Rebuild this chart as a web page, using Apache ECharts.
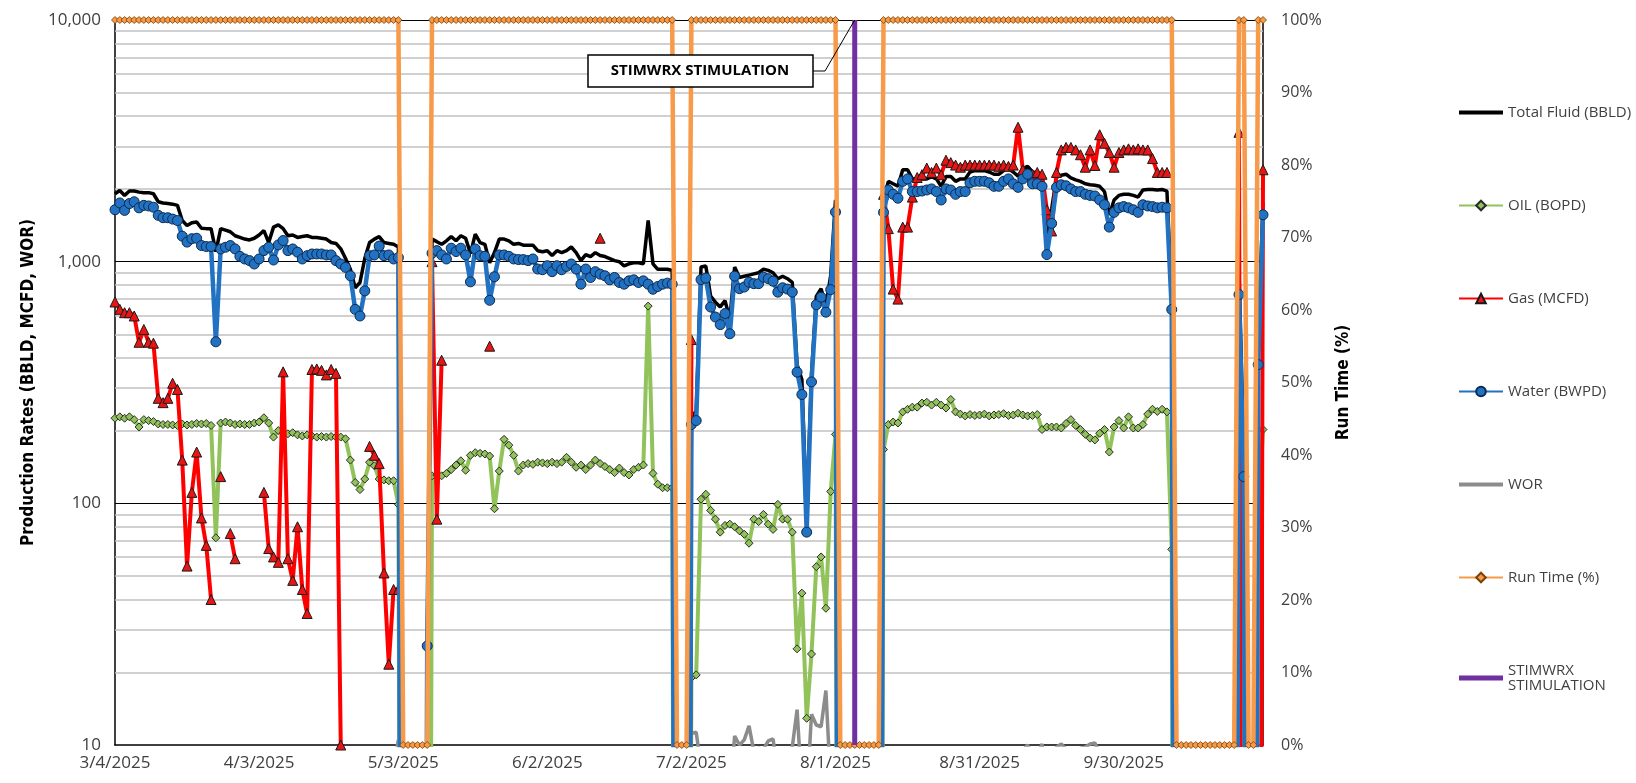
<!DOCTYPE html>
<html>
<head>
<meta charset="utf-8">
<title>Production Rates</title>
<script src="https://cdn.jsdelivr.net/npm/echarts@6/dist/echarts.min.js"></script>
<style>
  html, body { margin: 0; padding: 0; background: #fff; }
  #chart { width: 1636px; height: 783px; }
</style>
</head>
<body>
<div id="chart"></div>
<script>
// daily production, one entry per day from 3/4/2025 (index 0) to 10/29/2025 (index 239)
// 0 = well down, _ = no reading
const _ = null;
const START_DATE = Date.UTC(2025, 2, 4);
const DAY_COUNT = 240;
const STIM_DAY = 154;

const totalFluid = [
  1910,1970,1880,1960,1960,1940,1930,1930,1910,1770,
  1750,1740,1730,1710,1480,1410,1450,1460,1375,1370,
  1370,1100,1370,1350,1330,1280,1260,1240,1230,1250,
  1290,1345,1200,1390,1420,1370,1280,1290,1260,1270,
  1280,1260,1260,1250,1240,1200,1190,1130,1030,930,
  780,820,1030,1200,1240,1270,1200,1190,1180,1150,
  0,0,0,0,0,26,1240,1210,1180,1220,
  1270,1220,1280,1250,1080,1300,1200,1180,990,1090,
  1240,1240,1220,1180,1190,1170,1170,1170,1110,1100,
  1110,1060,1110,1090,1110,1150,1090,1010,1070,1050,
  1090,1060,1050,1030,1010,1000,960,980,990,990,
  980,1480,980,930,930,930,920,0,0,0,
  230,240,950,960,720,680,650,690,580,950,
  860,870,880,890,900,930,920,900,850,870,
  850,820,375,325,89,342,718,773,655,878,
  1800,0,0,0,0,0,0,0,0,0,
  1800,2150,2100,2050,2400,2400,2200,2200,2200,2200,
  2250,2200,2050,2250,2250,2150,2200,2200,2350,2380,
  2380,2380,2350,2300,2300,2380,2430,2350,2260,2430,
  2480,2350,2330,2260,1280,1650,2230,2280,2300,2220,
  2180,2150,2100,2080,2070,2050,1950,1560,1800,1880,
  1900,1900,1880,1850,1980,1990,1990,1980,1990,1960,
  700,0,0,0,0,0,0,0,0,0,
  0,0,0,0,930,158,0,0,461,1765
];

const oil = [
  225,228,225,228,222,207,222,220,218,213,
  212,212,211,210,213,211,212,214,213,214,
  210,72,215,217,215,212,213,212,212,215,
  217,226,215,188,200,195,194,196,192,190,
  192,190,188,189,188,189,188,188,185,151,
  122,114,126,148,143,126,125,124,124,99,
  0,0,0,0,0,0,130,131,130,133,
  138,144,150,137,158,162,161,160,157,95,
  136,184,174,158,136,144,146,145,148,147,
  146,148,146,148,155,148,141,144,138,144,
  151,146,142,138,134,140,134,131,138,141,
  144,655,133,120,116,116,116,0,0,0,
  19,19.5,104,109,93.5,86,76,81,82,80,
  77,74.5,68.4,86,84,90,82,78,99,86,
  86,76,25,42.5,12.9,23.8,54.7,60,36.8,112,
  193,0,0,0,0,0,0,0,0,0,
  167,212,217,215,239,245,250,250,260,262,
  255,262,255,248,269,239,234,230,233,231,
  232,234,230,232,233,235,231,232,236,232,
  230,231,233,202,207,207,207,205,214,222,
  210,202,193,186,183,195,202,163,207,220,
  205,228,205,205,212,234,245,240,245,239,
  64.5,0,0,0,0,0,0,0,0,0,
  0,0,0,0,200,28.8,0,0,86,202
];

const gas = [
  681,635,615,615,596,464,524,464,460,272,
  261,272,314,296,151,55,111,163,87,67,
  40,_,129,_,75,59,_,_,_,_,
  _,111,65,60,57,350,59,48,80,44,
  35,358,360,355,340,358,345,10,_,_,
  _,_,_,172,158,146,51.5,21.6,44,44,
  _,_,_,_,_,_,1000,86,391,_,
  _,_,_,_,_,_,_,_,447,_,
  _,_,_,_,_,_,_,_,_,_,
  _,_,_,_,_,_,_,_,_,_,
  _,1250,_,_,_,_,_,_,_,_,
  _,_,_,_,_,_,_,0,0,0,
  476,_,_,_,_,_,_,_,_,_,
  _,_,_,_,_,_,_,_,_,_,
  _,_,_,_,_,_,_,_,_,_,
  _,_,_,_,_,_,_,_,_,_,
  1900,1370,770,700,1390,1390,1850,2230,2290,2440,
  2340,2440,2290,2630,2570,2510,2460,2510,2510,2510,
  2510,2510,2510,2510,2480,2510,2480,2510,3600,2400,
  2260,2300,2340,2300,1640,1340,2340,2900,2970,2970,
  2900,2770,2460,2900,2500,3350,3090,2830,2460,2830,
  2900,2930,2900,2930,2900,2900,2670,2340,2340,2340,
  _,_,_,_,_,_,_,_,_,_,
  _,_,_,0,3430,0,_,_,0,2400
];

const water = [
  1640,1750,1630,1740,1770,1670,1710,1700,1680,1555,
  1520,1520,1500,1480,1275,1205,1245,1250,1166,1155,
  1155,466,1129,1147,1166,1129,1052,1026,1010,978,
  1026,1111,1147,1016,1173,1223,1111,1129,1094,1026,
  1059,1076,1076,1076,1066,1066,1010,978,947,874,
  635,596,757,1059,1066,1160,1059,1066,1026,1040,
  0,0,0,0,0,25.7,1083,1111,1066,1026,
  1137,1101,1137,1066,825,1129,1059,1052,692,866,
  1066,1066,1052,1026,1020,1020,1010,1026,932,926,
  962,909,962,926,956,978,932,807,932,860,
  909,888,874,841,860,820,807,833,841,820,
  833,807,769,789,807,815,807,0,0,0,
  212,220,843,855,649,590,549,610,503,871,
  773,785,822,811,811,863,850,830,748,780,
  770,748,349,282,76,318,663,713,618,766,
  1604,0,0,0,0,0,0,0,0,0,
  1600,1980,1900,1830,2150,2200,1950,1950,1960,1980,
  2000,1950,1800,2000,1980,1900,1950,1950,2120,2150,
  2150,2150,2120,2050,2050,2150,2200,2100,2030,2200,
  2300,2100,2100,2050,1070,1440,2030,2080,2060,2000,
  1950,1950,1900,1880,1870,1800,1720,1390,1600,1670,
  1690,1670,1640,1600,1720,1700,1690,1670,1680,1670,
  634,0,0,0,0,0,0,0,0,0,
  0,0,0,0,731,129,0,0,375,1563
];

const wor = [
  7.3,7.7,7.2,7.6,8.0,8.1,7.7,7.7,7.7,7.3,
  7.2,7.2,7.1,7.0,6.0,5.7,5.9,5.8,5.5,5.4,
  5.5,6.5,5.3,5.3,5.4,5.3,4.9,4.8,4.8,4.5,
  4.7,4.9,5.3,5.4,5.9,6.3,5.7,5.8,5.7,5.4,
  5.5,5.7,5.7,5.7,5.7,5.6,5.4,5.2,5.1,5.8,
  5.2,5.2,6.0,7.2,7.5,9.2,8.5,8.6,8.3,10.5,
  _,_,_,_,_,_,8.3,8.5,8.2,7.7,
  8.2,7.6,7.6,7.8,5.2,7.0,6.6,6.6,4.4,9.1,
  7.8,5.8,6.0,6.5,7.5,7.1,6.9,7.1,6.3,6.3,
  6.6,6.1,6.6,6.3,6.2,6.6,6.6,5.6,6.8,6.0,
  6.0,6.1,6.2,6.1,6.4,5.9,6.0,6.4,6.1,5.8,
  5.8,1.2,5.8,6.6,7.0,7.0,7.0,_,_,_,
  11.2,11.3,8.1,7.8,6.9,6.9,7.2,7.5,6.1,10.9,
  10.0,10.5,12.0,9.4,9.7,9.6,10.4,10.6,7.6,9.1,
  9.0,9.8,14.0,6.6,5.9,13.4,12.1,11.9,16.8,6.8,
  8.3,_,_,_,_,_,_,_,_,_,
  9.6,9.3,8.8,8.5,9.0,9.0,7.8,7.8,7.5,7.6,
  7.8,7.4,7.1,8.1,7.4,7.9,8.3,8.5,9.1,9.3,
  9.3,9.2,9.2,8.8,8.8,9.1,9.5,9.1,8.6,9.5,
  10.0,9.1,9.0,10.1,5.2,7.0,9.8,10.1,9.6,9.0,
  9.3,9.7,9.8,10.1,10.2,9.2,8.5,8.5,7.7,7.6,
  8.2,7.3,8.0,7.8,8.1,7.3,6.9,7.0,6.9,7.0,
  9.8,_,_,_,_,_,_,_,_,_,
  _,_,_,_,3.7,4.5,_,_,4.4,7.7
];

const runTime = [
  100,100,100,100,100,100,100,100,100,100,
  100,100,100,100,100,100,100,100,100,100,
  100,100,100,100,100,100,100,100,100,100,
  100,100,100,100,100,100,100,100,100,100,
  100,100,100,100,100,100,100,100,100,100,
  100,100,100,100,100,100,100,100,100,100,
  0,0,0,0,0,0,100,100,100,100,
  100,100,100,100,100,100,100,100,100,100,
  100,100,100,100,100,100,100,100,100,100,
  100,100,100,100,100,100,100,100,100,100,
  100,100,100,100,100,100,100,100,100,100,
  100,100,100,100,100,100,100,0,0,0,
  100,100,100,100,100,100,100,100,100,100,
  100,100,100,100,100,100,100,100,100,100,
  100,100,100,100,100,100,100,100,100,100,
  100,0,0,0,0,0,0,0,0,0,
  100,100,100,100,100,100,100,100,100,100,
  100,100,100,100,100,100,100,100,100,100,
  100,100,100,100,100,100,100,100,100,100,
  100,100,100,100,100,100,100,100,100,100,
  100,100,100,100,100,100,100,100,100,100,
  100,100,100,100,100,100,100,100,100,100,
  100,0,0,0,0,0,0,0,0,0,
  0,0,0,0,100,100,0,0,100,100
];

const MINOR_GRID = [20,30,40,50,60,70,80,90,200,300,400,500,600,700,800,900,2000,3000,4000,5000,6000,7000,8000,9000];
const MAJOR_GRID = [100,1000,10000];

// date labels for the category axis
const dates = Array.from({ length: DAY_COUNT }, (_, i) => {
  const d = new Date(START_DATE + i * 86400000);
  return (d.getUTCMonth() + 1) + '/' + d.getUTCDate() + '/' + d.getUTCFullYear();
});

// zero can't sit on a log axis: push it far below the floor so the line drops out of the plot
const LOG_FLOOR = 1e-4;
const onLog = arr => arr.map(v => (v === 0 ? LOG_FLOOR : v));

const FONT = 'Open Sans';
const TITLE_FONT = "'DejaVu Sans Condensed', Roboto, sans-serif";
const TEXT = '#404040';

// plain bar legend icons (44x12 box, tiny corner dots keep the box size)
const barIcon = (y, h) => 'path://M0,0h0.01v0.01h-0.01z M0,' + y + 'h44v' + h + 'h-44z M43.99,11.99h0.01v0.01h-0.01z';

const chart = echarts.init(document.getElementById('chart'), null, { renderer: 'canvas' });

chart.setOption({
  animation: false,
  grid: { left: 115, right: 373, top: 20, bottom: 38 },
  legend: {
    orient: 'vertical',
    left: 1453,
    top: 100,
    itemGap: 78,
    itemWidth: 44,
    itemHeight: 12,
    textStyle: { fontFamily: FONT, fontSize: 15, color: TEXT },
    formatter: name => (name === 'STIMWRX STIMULATION' ? 'STIMWRX\nSTIMULATION' : name),
    data: [
      { name: 'Total Fluid (BBLD)', icon: barIcon(4, 4) },
      'OIL (BOPD)',
      'Gas (MCFD)',
      'Water (BWPD)',
      { name: 'WOR', icon: barIcon(4, 4) },
      'Run Time (%)',
      { name: 'STIMWRX STIMULATION', icon: barIcon(3.5, 5) }
    ]
  },
  xAxis: {
    type: 'category',
    data: dates,
    boundaryGap: false,
    axisLine: { lineStyle: { color: '#000', width: 1.5 } },
    axisTick: { show: false },
    axisLabel: { interval: 29, fontFamily: FONT, fontSize: 17, color: TEXT, margin: 10 },
    splitLine: { show: false }
  },
  yAxis: [
    {
      type: 'log',
      logBase: 10,
      min: 10,
      max: 10000,
      name: 'Production Rates (BBLD, MCFD, WOR)',
      nameLocation: 'middle',
      nameRotate: 90,
      nameGap: 78,
      nameTextStyle: { fontFamily: TITLE_FONT, fontWeight: 'bold', fontSize: 17, color: '#000' },
      axisLine: { show: true, lineStyle: { color: '#000', width: 1.5 } },
      axisTick: { show: false },
      axisLabel: { fontFamily: FONT, fontSize: 17, color: TEXT, margin: 14,
        formatter: v => Math.round(v).toLocaleString('en-US') },
      splitLine: { show: false }
    },
    {
      type: 'value',
      min: 0,
      max: 100,
      interval: 10,
      position: 'right',
      name: 'Run Time (%)',
      nameLocation: 'middle',
      nameRotate: 90,
      nameGap: 72,
      nameTextStyle: { fontFamily: TITLE_FONT, fontWeight: 'bold', fontSize: 17, color: '#000' },
      axisLine: { show: true, lineStyle: { color: '#000', width: 1.5 } },
      axisTick: { show: false },
      axisLabel: { fontFamily: FONT, fontSize: 16, color: TEXT, margin: 18, formatter: '{value}%' },
      splitLine: { show: false }
    }
  ],
  series: [
    {
      name: 'Total Fluid (BBLD)', type: 'line', yAxisIndex: 0, z: 2,
      data: onLog(totalFluid), symbol: 'none',
      lineStyle: { color: '#000', width: 3.5 }, itemStyle: { color: '#000' },
      markLine: {
        silent: true, symbol: 'none', z: 1, animation: false,
        label: { show: false },
        emphasis: { disabled: true },
        data: MINOR_GRID.map(v => ({ yAxis: v, lineStyle: { color: '#c0c0c0', width: 1.5, type: 'solid' } }))
          .concat(MAJOR_GRID.map(v => ({ yAxis: v, lineStyle: { color: '#000', width: 1, type: 'solid' } })))
      }
    },
    {
      name: 'OIL (BOPD)', type: 'line', yAxisIndex: 0, z: 3,
      data: onLog(oil), symbol: 'diamond', symbolSize: 8, showAllSymbol: true,
      lineStyle: { color: '#92C25A', width: 4 },
      itemStyle: { color: '#92C25A', borderColor: '#2b2b2b', borderWidth: 1 }
    },
    {
      name: 'Gas (MCFD)', type: 'line', yAxisIndex: 0, z: 4,
      data: onLog(gas), symbol: 'triangle', symbolSize: 10, showAllSymbol: true,
      lineStyle: { color: '#FF0000', width: 4 },
      itemStyle: { color: '#E81515', borderColor: '#1a1a1a', borderWidth: 1 }
    },
    {
      name: 'Water (BWPD)', type: 'line', yAxisIndex: 0, z: 5,
      data: onLog(water), symbol: 'circle', symbolSize: 10, showAllSymbol: true,
      lineStyle: { color: '#2272C3', width: 4.5 },
      itemStyle: { color: '#2272C3', borderColor: '#0d2a4d', borderWidth: 1 }
    },
    {
      name: 'WOR', type: 'line', yAxisIndex: 0, z: 2,
      data: wor, symbol: 'none',
      lineStyle: { color: '#8C8C8C', width: 3.5 }, itemStyle: { color: '#8C8C8C' }
    },
    {
      name: 'Run Time (%)', type: 'line', yAxisIndex: 1, z: 6, clip: false,
      data: runTime, symbol: 'diamond', symbolSize: 7, showAllSymbol: true,
      lineStyle: { color: '#F79A4A', width: 4.5 },
      itemStyle: { color: '#F79A4A', borderColor: '#7a4206', borderWidth: 0.8 }
    },
    {
      name: 'STIMWRX STIMULATION', type: 'line', yAxisIndex: 0, z: 7,
      data: [[STIM_DAY, 10], [STIM_DAY, 10000]], symbol: 'none',
      lineStyle: { color: '#7030A0', width: 5 }, itemStyle: { color: '#7030A0' }
    }
  ]
});

// callout box pointing at the top of the stimulation line
const tip = chart.convertToPixel({ xAxisIndex: 0, yAxisIndex: 0 }, [STIM_DAY, 10000]);
chart.setOption({
  graphic: [
    {
      type: 'polyline', z: 20, silent: true,
      shape: { points: [[813, 71], [825, 71], [tip[0], tip[1]]] },
      style: { stroke: '#000', lineWidth: 1, fill: null }
    },
    {
      type: 'rect', z: 20, silent: true,
      shape: { x: 588, y: 55, width: 225, height: 32 },
      style: { fill: '#fff', stroke: '#000', lineWidth: 1.5 }
    },
    {
      type: 'text', z: 21, silent: true, x: 700, y: 71,
      style: { text: 'STIMWRX STIMULATION', fontFamily: FONT, fontWeight: 'bold', fontSize: 15,
        fill: '#000', align: 'center', verticalAlign: 'middle' }
    }
  ]
});
</script>
</body>
</html>
